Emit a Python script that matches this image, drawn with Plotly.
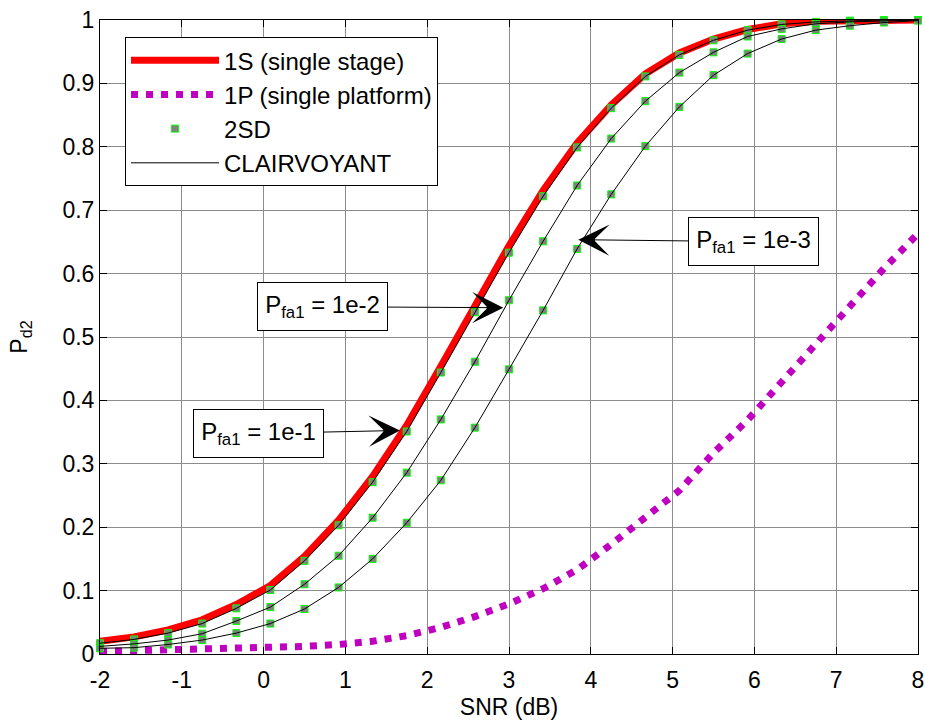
import plotly.graph_objects as go

# ---------------- data ----------------
snr_db = [-2.0, -1.583, -1.167, -0.75, -0.333, 0.083, 0.5, 0.917, 1.333, 1.75,
          2.167, 2.583, 3.0, 3.417, 3.833, 4.25, 4.667, 5.083, 5.5, 5.917,
          6.333, 6.75, 7.167, 7.583, 8.0]

pd_1s = [0.020, 0.027, 0.038, 0.054, 0.078, 0.108, 0.154, 0.211, 0.280, 0.361,
         0.454, 0.550, 0.644, 0.731, 0.806, 0.866, 0.915, 0.948, 0.970, 0.985,
         0.994, 0.998, 0.999, 1.000, 1.000]

pd_1p = [0.004, 0.005, 0.006, 0.007, 0.008, 0.010, 0.012, 0.015, 0.020, 0.029,
         0.042, 0.059, 0.079, 0.103, 0.133, 0.173, 0.214, 0.258, 0.317, 0.369,
         0.429, 0.489, 0.550, 0.608, 0.663]

pd_2sd_1e1 = [0.017, 0.023, 0.033, 0.048, 0.072, 0.101, 0.147, 0.203, 0.271, 0.351,
              0.444, 0.539, 0.633, 0.722, 0.799, 0.861, 0.911, 0.945, 0.968, 0.984,
              0.993, 0.997, 0.999, 1.000, 1.000]
pd_2sd_1e2 = [0.012, 0.016, 0.022, 0.032, 0.052, 0.074, 0.110, 0.155, 0.215, 0.286,
              0.370, 0.461, 0.558, 0.651, 0.739, 0.813, 0.872, 0.917, 0.949, 0.974,
              0.986, 0.994, 0.997, 0.999, 1.000]
pd_2sd_1e3 = [0.009, 0.010, 0.015, 0.022, 0.033, 0.048, 0.071, 0.105, 0.150, 0.207,
              0.274, 0.357, 0.449, 0.542, 0.639, 0.725, 0.801, 0.863, 0.913, 0.947,
              0.970, 0.984, 0.991, 0.996, 0.999]

pd_clair_1e1 = list(pd_2sd_1e1)
pd_clair_1e2 = list(pd_2sd_1e2)
pd_clair_1e3 = list(pd_2sd_1e3)

x_ticks = [-2, -1, 0, 1, 2, 3, 4, 5, 6, 7, 8]
x_tick_labels = ["-2", "-1", "0", "1", "2", "3", "4", "5", "6", "7", "8"]
y_ticks = [0, 0.1, 0.2, 0.3, 0.4, 0.5, 0.6, 0.7, 0.8, 0.9, 1]
y_tick_labels = ["0", "0.1", "0.2", "0.3", "0.4", "0.5", "0.6", "0.7", "0.8", "0.9", "1"]

pfa_labels = ["1e-1", "1e-2", "1e-3"]
arrow_tips_x = [1.667, 2.930, 3.847]
arrow_tips_y = [0.3526, 0.5462, 0.6535]
box_offsets_x = [-141, -181, 175]
box_offsets_y = [3, -1, 2]

FONT = "Liberation Sans, Arial, sans-serif"

fig = go.Figure()

fig.add_trace(go.Scatter(x=snr_db, y=pd_1s, mode="lines", name="1S (single stage)",
                         legendgroup="1s",
                         line=dict(color="#ff0000", width=7)))
fig.add_trace(go.Scatter(x=snr_db, y=pd_1p, mode="lines", name="1P (single platform)",
                         legendgroup="1p",
                         line=dict(color="#c000c0", width=7, dash="7px,8px")))

for k, ys in enumerate([pd_2sd_1e1, pd_2sd_1e2, pd_2sd_1e3]):
    fig.add_trace(go.Scatter(x=snr_db, y=ys, mode="markers", name="2SD",
                             legendgroup="2sd", showlegend=(k == 0), cliponaxis=False,
                             marker=dict(symbol="square", size=7, color="#808080",
                                         line=dict(color="#00ff00", width=1))))

for k, ys in enumerate([pd_clair_1e1, pd_clair_1e2, pd_clair_1e3]):
    fig.add_trace(go.Scatter(x=snr_db, y=ys, mode="lines", name="CLAIRVOYANT",
                             legendgroup="clair", showlegend=(k == 0),
                             line=dict(color="#000000", width=1)))

for lab, tx, ty, ox, oy in zip(pfa_labels, arrow_tips_x, arrow_tips_y, box_offsets_x, box_offsets_y):
    fig.add_annotation(x=tx, y=ty, xref="x", yref="y", ax=ox, ay=oy,
                       text="P<sub>fa1</sub> = " + lab,
                       font=dict(family=FONT, size=24, color="black"),
                       showarrow=True, arrowhead=3, arrowsize=5.2, arrowwidth=1,
                       arrowcolor="black", standoff=0,
                       bordercolor="black", borderwidth=1, borderpad=1,
                       bgcolor="white", width=127, height=45)

axis_common = dict(showgrid=True, gridcolor="#8c8c8c", gridwidth=1, zeroline=False,
                   showline=True, linecolor="black", linewidth=1, mirror="ticks",
                   ticks="inside", ticklen=7, tickcolor="black", automargin=False,
                   tickfont=dict(family=FONT, size=23, color="black"))

fig.update_layout(
    width=925, height=721,
    margin=dict(l=100, r=7, t=20, b=67),
    paper_bgcolor="white", plot_bgcolor="white",
    font=dict(family=FONT, size=23, color="black"),
    xaxis=dict(range=[-2, 8], tickvals=x_ticks, ticktext=x_tick_labels, ticklabelstandoff=5,
               title=dict(text="SNR (dB)", font=dict(family=FONT, size=23), standoff=7),
               **axis_common),
    yaxis=dict(range=[0, 1], tickvals=y_ticks, ticktext=y_tick_labels,
               title=dict(text="P<sub>d2</sub>", font=dict(family=FONT, size=23), standoff=28),
               **axis_common),
    legend=dict(x=0.0306, y=0.973, xanchor="left", yanchor="top",
                bgcolor="white", bordercolor="black", borderwidth=1,
                font=dict(family=FONT, size=24, color="black"),
                itemwidth=88, tracegroupgap=0),
    showlegend=True,
)

fig.write_html("out.html", config={"displayModeBar": False},
               post_script="document.body.style.margin='0px';")
